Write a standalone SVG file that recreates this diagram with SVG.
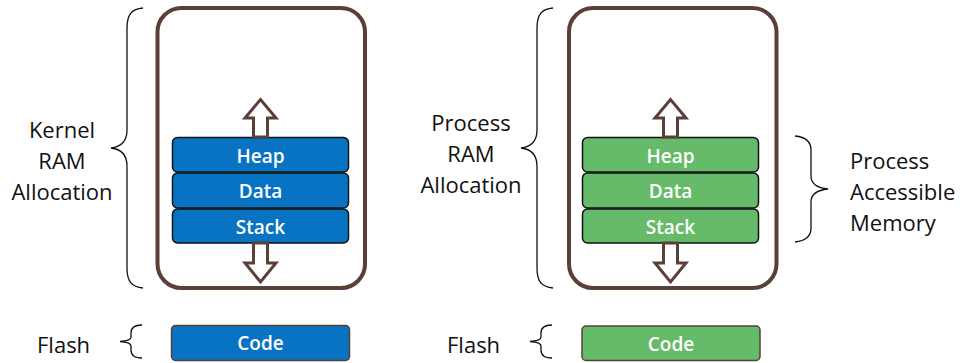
<svg xmlns="http://www.w3.org/2000/svg" width="962" height="363" viewBox="0 0 962 363">
  <style>
    .frame { fill: #ffffff; stroke: #5a3f37; stroke-width: 4; }
    .seg-k { fill: #0873c3; stroke: #111111; stroke-width: 1.5; }
    .seg-p { fill: #66bb6a; stroke: #111111; stroke-width: 1.5; }
    .code-k { fill: #0873c3; stroke: #5a3f37; stroke-width: 1.5; }
    .code-p { fill: #66bb6a; stroke: #5a3f37; stroke-width: 1.5; }
    .grow { fill: #ffffff; stroke: #5a3f37; stroke-width: 3; stroke-linejoin: miter; }
    .brace { fill: none; stroke: #111111; stroke-width: 1.3; }
    .lbl { font-family: "Open Sans", "Noto Sans", sans-serif; font-size: 22px; fill: #111111; }
    .seg-t { font-family: "Open Sans", "Noto Sans", sans-serif; font-size: 19px; font-weight: 600; fill: #ffffff; text-anchor: middle; }
  </style>

  <!-- Kernel side -->
  <g id="kernel-ram">
    <rect class="frame" x="157.5" y="8" width="207.5" height="280" rx="24"/>
  </g>
  <g id="kernel-heap">
    <rect class="seg-k" x="172.5" y="137.5" width="176" height="34.5" rx="5"/>
    <text class="seg-t" x="260.5" y="162.5">Heap</text>
  </g>
  <g id="kernel-data">
    <rect class="seg-k" x="172.5" y="173" width="176" height="35" rx="5"/>
    <text class="seg-t" x="260.5" y="198">Data</text>
  </g>
  <g id="kernel-stack">
    <rect class="seg-k" x="172.5" y="209" width="176" height="34" rx="5"/>
    <text class="seg-t" x="260.5" y="233.5">Stack</text>
  </g>
  <g id="kernel-code">
    <rect class="code-k" x="171.5" y="325.5" width="178" height="35" rx="4"/>
    <text class="seg-t" x="260.5" y="350">Code</text>
  </g>

  <!-- Process side -->
  <g id="process-ram">
    <rect class="frame" x="569" y="8" width="207.5" height="280" rx="24"/>
  </g>
  <g id="process-heap">
    <rect class="seg-p" x="582.5" y="137.5" width="176" height="34.5" rx="5"/>
    <text class="seg-t" x="670.5" y="162.5">Heap</text>
  </g>
  <g id="process-data">
    <rect class="seg-p" x="582.5" y="173" width="176" height="35" rx="5"/>
    <text class="seg-t" x="670.5" y="198">Data</text>
  </g>
  <g id="process-stack">
    <rect class="seg-p" x="582.5" y="209" width="176" height="34" rx="5"/>
    <text class="seg-t" x="670.5" y="233.5">Stack</text>
  </g>
  <g id="process-code">
    <rect class="code-p" x="582" y="326" width="178" height="34.5" rx="4"/>
    <text class="seg-t" x="671" y="350.5">Code</text>
  </g>

  <!-- growth arrows and braces -->
  <g id="connectors">
    <polygon class="grow" points="253.5,137 253.5,118 245,118 260.5,99.5 276,118 267.5,118 267.5,137"/>
    <polygon class="grow" points="253.5,243 253.5,263 245,263 260.5,282 276,263 267.5,263 267.5,243"/>
    <polygon class="grow" points="663.5,137 663.5,118 655,118 670.5,99.5 686,118 677.5,118 677.5,137"/>
    <polygon class="grow" points="663.5,243 663.5,263 655,263 670.5,282 686,263 677.5,263 677.5,243"/>

    <path class="brace" d="M143,8 C132,9 127,14 127,28 L127,130 C127,142 120,147 111,148 C120,149 127,154 127,166 L127,268 C127,282 132,287 143,288"/>
    <path class="brace" d="M553,8 C542,9 537,14 537,28 L537,130 C537,142 530,147 521,148 C530,149 537,154 537,166 L537,268 C537,282 542,287 553,288"/>
    <path class="brace" d="M795,136 C805,137 811,141 811,150 L811,176 C811,184 818,188 828,189 C818,190 811,194 811,202 L811,228 C811,237 805,241 795,242"/>
    <path class="brace" d="M142,325 C135,325 131,328 131,333 L131,337 C131,340 127,341 120,341.5 C127,342 131,343 131,346 L131,350 C131,355 135,358 142,358"/>
    <path class="brace" d="M552,325 C545,325 541,328 541,333 L541,337 C541,340 537,341 530,341.5 C537,342 541,343 541,346 L541,350 C541,355 545,358 552,358"/>
  </g>

  <!-- labels -->
  <g id="labels">
    <text class="lbl" text-anchor="middle" x="62" y="138">Kernel</text>
    <text class="lbl" text-anchor="middle" x="62" y="169">RAM</text>
    <text class="lbl" text-anchor="middle" x="62" y="200">Allocation</text>
    <text class="lbl" text-anchor="middle" x="471" y="131">Process</text>
    <text class="lbl" text-anchor="middle" x="471" y="162">RAM</text>
    <text class="lbl" text-anchor="middle" x="471" y="193">Allocation</text>
    <text class="lbl" x="850" y="169">Process</text>
    <text class="lbl" x="850" y="200">Accessible</text>
    <text class="lbl" x="850" y="231">Memory</text>
    <text class="lbl" x="37" y="353">Flash</text>
    <text class="lbl" x="447" y="353">Flash</text>
  </g>
</svg>
